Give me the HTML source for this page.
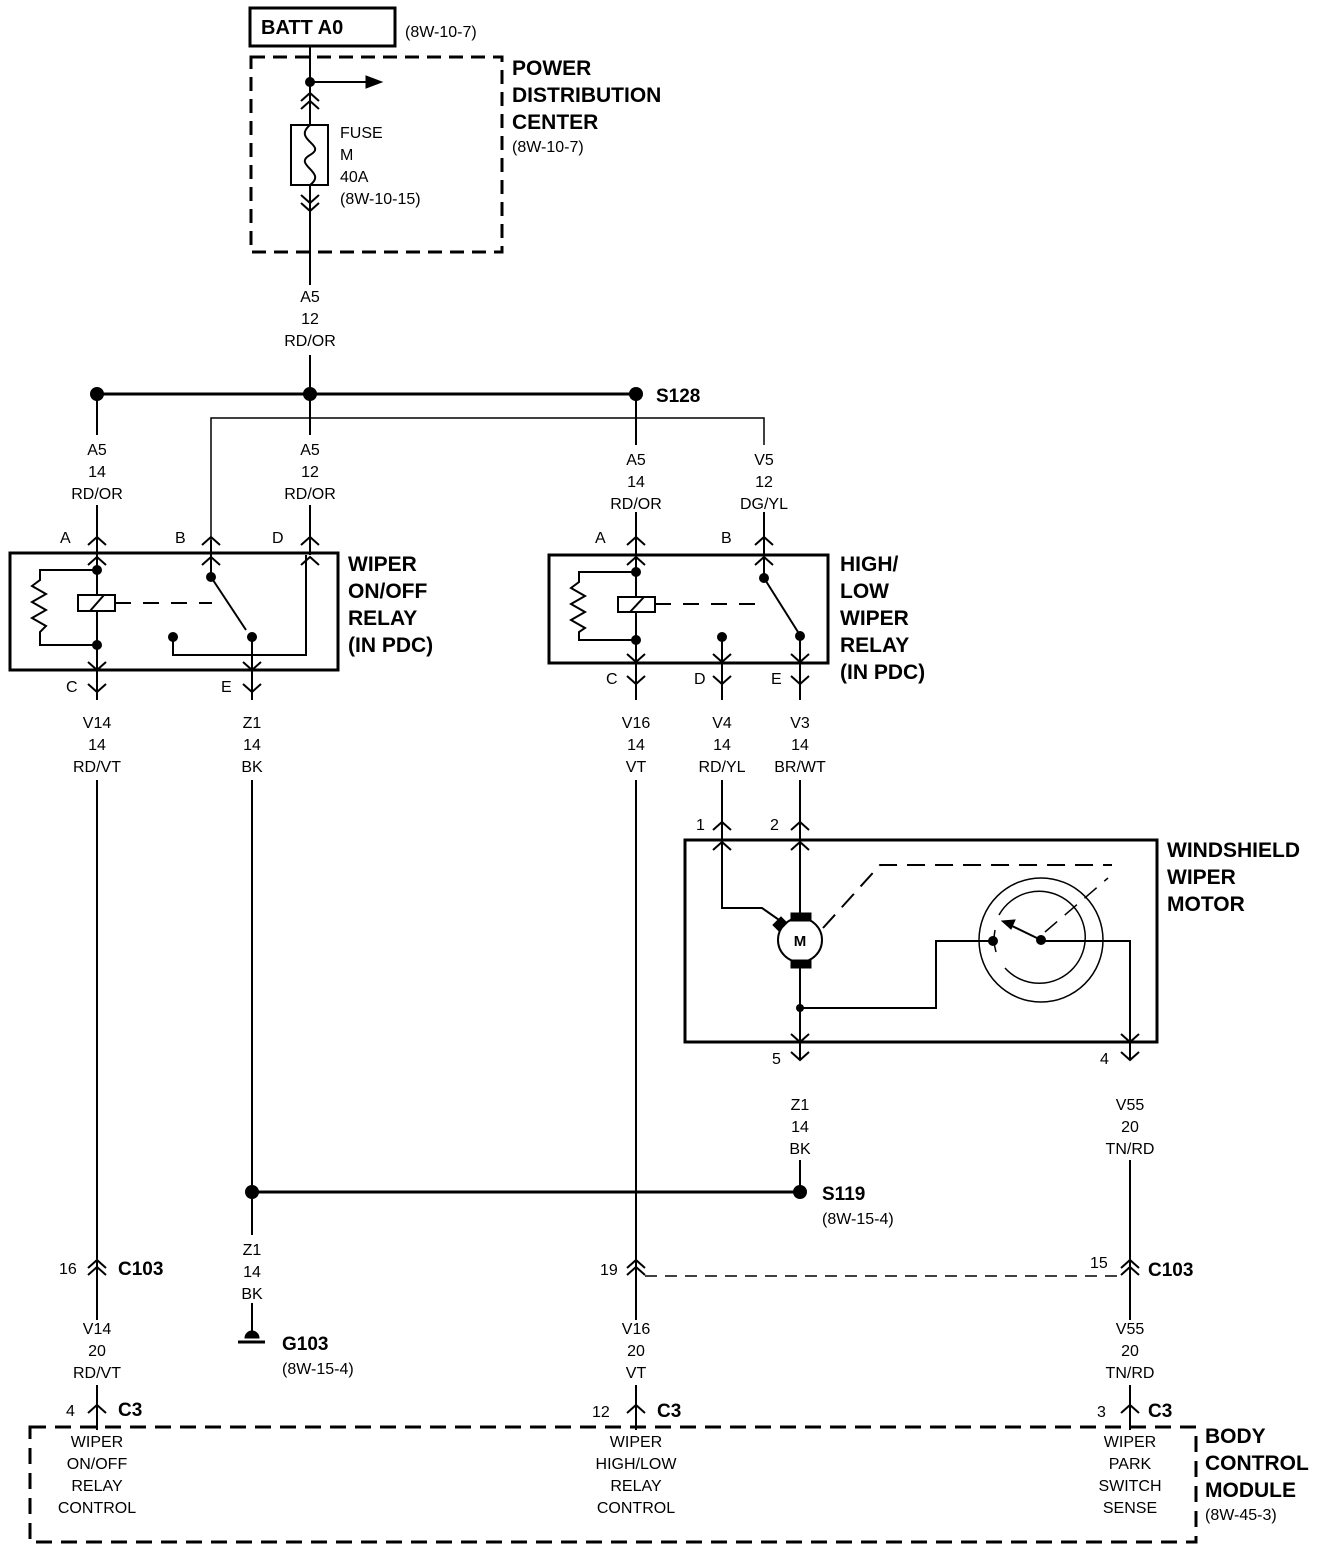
<!DOCTYPE html>
<html><head><meta charset="utf-8"><style>
html,body{margin:0;padding:0;background:#fff}
svg{display:block}
text{font-family:"Liberation Sans",Arial,sans-serif;fill:#000}
.s{font-size:16px}
.b{font-size:21px;font-weight:bold}
.c{text-anchor:middle}
</style></head><body>
<svg width="1328" height="1552" viewBox="0 0 1328 1552" xmlns="http://www.w3.org/2000/svg">
<defs>
<path id="up" d="M-9 8 L0 0 L9 8" fill="none" stroke="#000" stroke-width="2"/>
<path id="dn" d="M-9 -8 L0 0 L9 -8" fill="none" stroke="#000" stroke-width="2"/>
</defs>
<g stroke="#000" fill="none">
<rect x="250" y="8" width="145" height="38" stroke-width="3"/>
<rect x="251" y="57" width="251" height="195" stroke-width="3" stroke-dasharray="14,8"/>
<line x1="310" y1="46" x2="310" y2="285" stroke-width="2"/>
<line x1="310" y1="355" x2="310" y2="394" stroke-width="2"/>
<line x1="310" y1="82" x2="368" y2="82" stroke-width="2"/>
<path d="M366 76 L382 82 L366 88Z" fill="#000"/>
<rect x="291" y="125" width="37" height="60" stroke-width="2" fill="#fff"/>
<path d="M310 125 C292 140 328 145 310 155 C292 165 328 172 310 185" stroke-width="2"/>
<line x1="97" y1="394" x2="636" y2="394" stroke-width="3"/>
<polyline points="211,555 211,418 764,418 764,445" stroke-width="1.5"/>
<line x1="764" y1="512" x2="764" y2="555" stroke-width="2"/>
<line x1="97" y1="394" x2="97" y2="435" stroke-width="2"/>
<line x1="97" y1="505" x2="97" y2="555" stroke-width="2"/>
<line x1="310" y1="394" x2="310" y2="435" stroke-width="2"/>
<line x1="310" y1="505" x2="310" y2="555" stroke-width="2"/>
<line x1="636" y1="394" x2="636" y2="445" stroke-width="2"/>
<line x1="636" y1="512" x2="636" y2="555" stroke-width="2"/>
<!-- relay 1 -->
<rect x="10" y="553" width="328" height="117" stroke-width="3"/>
<line x1="97" y1="540" x2="97" y2="700" stroke-width="2"/>
<line x1="211" y1="540" x2="211" y2="577" stroke-width="2"/>
<polyline points="97,570 40,570 40,580 32,586 46,594 32,602 46,610 32,618 46,626 40,632 40,645 97,645" stroke-width="2"/>
<rect x="78" y="595" width="37" height="16" stroke-width="2" fill="#fff"/>
<line x1="90" y1="611" x2="104" y2="595" stroke-width="2"/>
<line x1="115" y1="603" x2="212" y2="603" stroke-width="2" stroke-dasharray="16,12"/>
<line x1="211" y1="577" x2="246" y2="630" stroke-width="2"/>
<polyline points="173,637 173,655 306,655 306,555" stroke-width="2"/>
<line x1="252" y1="637" x2="252" y2="700" stroke-width="2"/>
<!-- relay 2 -->
<rect x="549" y="555" width="279" height="108" stroke-width="3"/>
<line x1="636" y1="540" x2="636" y2="700" stroke-width="2"/>
<line x1="764" y1="540" x2="764" y2="578" stroke-width="2"/>
<polyline points="636,572 579,572 579,582 571,588 585,596 571,604 585,612 571,620 585,628 579,632 579,640 636,640" stroke-width="2"/>
<rect x="618" y="597" width="37" height="15" stroke-width="2" fill="#fff"/>
<line x1="630" y1="612" x2="644" y2="597" stroke-width="2"/>
<line x1="655" y1="604" x2="764" y2="604" stroke-width="2" stroke-dasharray="16,12"/>
<line x1="764" y1="578" x2="798" y2="632" stroke-width="2"/>
<line x1="722" y1="637" x2="722" y2="700" stroke-width="2"/>
<line x1="800" y1="636" x2="800" y2="700" stroke-width="2"/>
<!-- long wires -->
<line x1="97" y1="780" x2="97" y2="1320" stroke-width="2"/>
<line x1="252" y1="780" x2="252" y2="1235" stroke-width="2"/>
<line x1="636" y1="780" x2="636" y2="1320" stroke-width="2"/>
<line x1="722" y1="780" x2="722" y2="840" stroke-width="2"/>
<line x1="800" y1="780" x2="800" y2="840" stroke-width="2"/>
<!-- motor -->
<rect x="685" y="840" width="472" height="202" stroke-width="3"/>
<polyline points="722,840 722,908 762,908 782,922" stroke-width="2"/>
<line x1="800" y1="840" x2="800" y2="913" stroke-width="2"/>
<circle cx="800" cy="940" r="22" stroke-width="2"/>
<rect x="791" y="913" width="20" height="8" fill="#000"/>
<rect x="791" y="960" width="20" height="8" fill="#000"/>
<path d="M773 925 L781 917 L787 923 L779 931Z" fill="#000"/>
<polyline points="823,928 880,865 1112,865" stroke-width="2" stroke-dasharray="18,10"/>
<line x1="800" y1="968" x2="800" y2="1060" stroke-width="2"/>
<polyline points="800,1008 936,1008 936,941 993,941" stroke-width="2"/>
<polyline points="1041,941 1130,941 1130,1060" stroke-width="2"/>
<circle cx="1041" cy="940" r="62" stroke-width="1.5"/>
<path d="M1005 968 A46 46 0 1 0 999 915" stroke-width="1.5"/>
<path d="M996 952 A46 46 0 0 1 995 930" stroke-width="1.5"/>
<line x1="1041" y1="940" x2="1010" y2="925" stroke-width="2"/>
<path d="M1002 921 L1015 920 L1011 929Z" fill="#000"/>
<line x1="1045" y1="932" x2="1108" y2="878" stroke-width="1.5" stroke-dasharray="16,10"/>
<!-- lower -->
<line x1="800" y1="1160" x2="800" y2="1192" stroke-width="2"/>
<line x1="1130" y1="1160" x2="1130" y2="1320" stroke-width="2"/>
<line x1="252" y1="1192" x2="800" y2="1192" stroke-width="3"/>
<line x1="252" y1="1303" x2="252" y2="1335" stroke-width="2"/>
<line x1="238" y1="1342" x2="265" y2="1342" stroke-width="3"/>
<path d="M245 1338 A7 7 0 0 1 259 1338Z" fill="#000"/>
<line x1="645" y1="1276" x2="1120" y2="1276" stroke-width="1.5" stroke-dasharray="12,8"/>
<line x1="97" y1="1385" x2="97" y2="1430" stroke-width="2"/>
<line x1="636" y1="1385" x2="636" y2="1430" stroke-width="2"/>
<line x1="1130" y1="1385" x2="1130" y2="1430" stroke-width="2"/>
<rect x="30" y="1427" width="1166" height="115" stroke-width="3" stroke-dasharray="16,9"/>
</g>
<g fill="#000">
<circle cx="310" cy="82" r="5"/>
<circle cx="97" cy="394" r="7"/><circle cx="310" cy="394" r="7"/><circle cx="636" cy="394" r="7"/>
<circle cx="97" cy="570" r="5"/><circle cx="97" cy="645" r="5"/><circle cx="211" cy="577" r="5"/><circle cx="252" cy="637" r="5"/><circle cx="173" cy="637" r="5"/>
<circle cx="636" cy="572" r="5"/><circle cx="636" cy="640" r="5"/><circle cx="764" cy="578" r="5"/><circle cx="800" cy="636" r="5"/><circle cx="722" cy="637" r="5"/>
<circle cx="800" cy="1008" r="4"/><circle cx="993" cy="941" r="5"/><circle cx="1041" cy="940" r="5"/>
<circle cx="252" cy="1192" r="7"/><circle cx="800" cy="1192" r="7"/>
</g>
<g>
<use href="#up" x="310" y="93"/><use href="#up" x="310" y="101"/>
<use href="#dn" x="310" y="203"/><use href="#dn" x="310" y="211"/>
<use href="#up" x="97" y="537"/><use href="#up" x="97" y="557"/>
<use href="#up" x="211" y="537"/><use href="#up" x="211" y="557"/>
<use href="#up" x="310" y="537"/><use href="#up" x="310" y="557"/>
<use href="#dn" x="97" y="670"/><use href="#dn" x="97" y="692"/>
<use href="#dn" x="252" y="670"/><use href="#dn" x="252" y="692"/>
<use href="#up" x="636" y="537"/><use href="#up" x="636" y="557"/>
<use href="#up" x="764" y="537"/><use href="#up" x="764" y="557"/>
<use href="#dn" x="636" y="662"/><use href="#dn" x="636" y="684"/>
<use href="#dn" x="722" y="662"/><use href="#dn" x="722" y="684"/>
<use href="#dn" x="800" y="662"/><use href="#dn" x="800" y="684"/>
<use href="#up" x="722" y="822"/><use href="#up" x="722" y="842"/>
<use href="#up" x="800" y="822"/><use href="#up" x="800" y="842"/>
<use href="#dn" x="800" y="1042"/><use href="#dn" x="800" y="1060"/>
<use href="#dn" x="1130" y="1042"/><use href="#dn" x="1130" y="1060"/>
<use href="#up" x="97" y="1260"/><use href="#up" x="97" y="1267"/>
<use href="#up" x="636" y="1260"/><use href="#up" x="636" y="1267"/>
<use href="#up" x="1130" y="1260"/><use href="#up" x="1130" y="1267"/>
<use href="#up" x="97" y="1405"/><use href="#up" x="636" y="1405"/><use href="#up" x="1130" y="1405"/>
</g>
<text x="800" y="946" class="c" style="font-size:15px;font-weight:bold">M</text>
<text x="261" y="34" class="b" style="font-size:20px">BATT A0</text>
<text x="405" y="37" class="s">(8W-10-7)</text>
<text x="512" y="75" class="b">POWER</text>
<text x="512" y="102" class="b">DISTRIBUTION</text>
<text x="512" y="129" class="b">CENTER</text>
<text x="512" y="152" class="s">(8W-10-7)</text>
<text x="340" y="138" class="s">FUSE</text><text x="340" y="160" class="s">M</text><text x="340" y="182" class="s">40A</text><text x="340" y="204" class="s">(8W-10-15)</text>
<g>
<text x="310" y="302" class="c s">A5</text><text x="310" y="324" class="c s">12</text><text x="310" y="346" class="c s">RD/OR</text>
<text x="97" y="455" class="c s">A5</text><text x="97" y="477" class="c s">14</text><text x="97" y="499" class="c s">RD/OR</text>
<text x="310" y="455" class="c s">A5</text><text x="310" y="477" class="c s">12</text><text x="310" y="499" class="c s">RD/OR</text>
<text x="636" y="465" class="c s">A5</text><text x="636" y="487" class="c s">14</text><text x="636" y="509" class="c s">RD/OR</text>
<text x="764" y="465" class="c s">V5</text><text x="764" y="487" class="c s">12</text><text x="764" y="509" class="c s">DG/YL</text>
<text x="97" y="728" class="c s">V14</text><text x="97" y="750" class="c s">14</text><text x="97" y="772" class="c s">RD/VT</text>
<text x="252" y="728" class="c s">Z1</text><text x="252" y="750" class="c s">14</text><text x="252" y="772" class="c s">BK</text>
<text x="636" y="728" class="c s">V16</text><text x="636" y="750" class="c s">14</text><text x="636" y="772" class="c s">VT</text>
<text x="722" y="728" class="c s">V4</text><text x="722" y="750" class="c s">14</text><text x="722" y="772" class="c s">RD/YL</text>
<text x="800" y="728" class="c s">V3</text><text x="800" y="750" class="c s">14</text><text x="800" y="772" class="c s">BR/WT</text>
<text x="800" y="1110" class="c s">Z1</text><text x="800" y="1132" class="c s">14</text><text x="800" y="1154" class="c s">BK</text>
<text x="1130" y="1110" class="c s">V55</text><text x="1130" y="1132" class="c s">20</text><text x="1130" y="1154" class="c s">TN/RD</text>
<text x="252" y="1255" class="c s">Z1</text><text x="252" y="1277" class="c s">14</text><text x="252" y="1299" class="c s">BK</text>
<text x="97" y="1334" class="c s">V14</text><text x="97" y="1356" class="c s">20</text><text x="97" y="1378" class="c s">RD/VT</text>
<text x="636" y="1334" class="c s">V16</text><text x="636" y="1356" class="c s">20</text><text x="636" y="1378" class="c s">VT</text>
<text x="1130" y="1334" class="c s">V55</text><text x="1130" y="1356" class="c s">20</text><text x="1130" y="1378" class="c s">TN/RD</text>
<text x="97" y="1447" class="c s">WIPER</text><text x="97" y="1469" class="c s">ON/OFF</text><text x="97" y="1491" class="c s">RELAY</text><text x="97" y="1513" class="c s">CONTROL</text>
<text x="636" y="1447" class="c s">WIPER</text><text x="636" y="1469" class="c s">HIGH/LOW</text><text x="636" y="1491" class="c s">RELAY</text><text x="636" y="1513" class="c s">CONTROL</text>
<text x="1130" y="1447" class="c s">WIPER</text><text x="1130" y="1469" class="c s">PARK</text><text x="1130" y="1491" class="c s">SWITCH</text><text x="1130" y="1513" class="c s">SENSE</text>
</g>
<text x="656" y="402" class="b" style="font-size:19px">S128</text>
<text x="60" y="543" class="s">A</text><text x="175" y="543" class="s">B</text><text x="272" y="543" class="s">D</text>
<text x="66" y="692" class="s">C</text><text x="221" y="692" class="s">E</text>
<text x="595" y="543" class="s">A</text><text x="721" y="543" class="s">B</text>
<text x="606" y="684" class="s">C</text><text x="694" y="684" class="s">D</text><text x="771" y="684" class="s">E</text>
<text x="348" y="571" class="b">WIPER</text><text x="348" y="598" class="b">ON/OFF</text><text x="348" y="625" class="b">RELAY</text><text x="348" y="652" class="b">(IN PDC)</text>
<text x="840" y="571" class="b">HIGH/</text><text x="840" y="598" class="b">LOW</text><text x="840" y="625" class="b">WIPER</text><text x="840" y="652" class="b">RELAY</text><text x="840" y="679" class="b">(IN PDC)</text>
<text x="696" y="830" class="s">1</text><text x="770" y="830" class="s">2</text>
<text x="1167" y="857" class="b">WINDSHIELD</text><text x="1167" y="884" class="b">WIPER</text><text x="1167" y="911" class="b">MOTOR</text>
<text x="772" y="1064" class="s">5</text><text x="1100" y="1064" class="s">4</text>
<text x="822" y="1200" class="b" style="font-size:19px">S119</text><text x="822" y="1224" class="s">(8W-15-4)</text>
<text x="282" y="1350" class="b" style="font-size:19px">G103</text><text x="282" y="1374" class="s">(8W-15-4)</text>
<text x="59" y="1274" class="s">16</text><text x="118" y="1275" class="b" style="font-size:19px">C103</text>
<text x="600" y="1275" class="s">19</text>
<text x="1090" y="1268" class="s">15</text><text x="1148" y="1276" class="b" style="font-size:19px">C103</text>
<text x="66" y="1416" class="s">4</text><text x="118" y="1416" class="b" style="font-size:19px">C3</text>
<text x="592" y="1417" class="s">12</text><text x="657" y="1417" class="b" style="font-size:19px">C3</text>
<text x="1097" y="1417" class="s">3</text><text x="1148" y="1417" class="b" style="font-size:19px">C3</text>
<text x="1205" y="1443" class="b">BODY</text><text x="1205" y="1470" class="b">CONTROL</text><text x="1205" y="1497" class="b">MODULE</text><text x="1205" y="1520" class="s">(8W-45-3)</text>
</svg>
</body></html>
